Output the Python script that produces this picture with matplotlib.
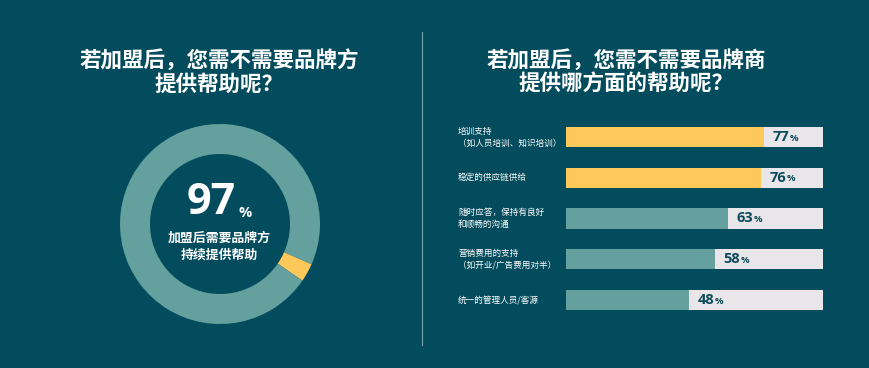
import matplotlib
matplotlib.use("Agg")
import matplotlib.pyplot as plt
from matplotlib.transforms import blended_transform_factory

plt.rcParams['font.family'] = ['Noto Sans CJK SC', 'DejaVu Sans']

# ---- data ----
left_title = "若加盟后，您需不需要品牌方\n提供帮助呢？"
right_title = "若加盟后，您需不需要品牌商\n提供哪方面的帮助呢？"
donut_values = [3, 97]          # 不需要 / 需要
donut_main = "97"
donut_caption = "加盟后需要品牌方\n持续提供帮助"
categories = ["培训支持\n（如人员培训、知识培训）",
              "稳定的供应链供给",
              "随时应答，保持有良好\n和顺畅的沟通",
              "营销费用的支持\n（如开业/广告费用对半）",
              "统一的管理人员/客源"]
values = [77, 76, 63, 58, 48]
highlight = [True, True, False, False, False]

# ---- style ----
BG = "#034C5D"
TEAL = "#64A09E"
YELLOW = "#FEC85A"
GRAY = "#E8E6E8"
DARK = "#0B4A5A"
W, H = 869, 368

fig = plt.figure(figsize=(W / 100, H / 100), dpi=100)
fig.patch.set_facecolor(BG)

def fx(px):
    return px / W

def fy(py):
    return 1 - py / H

# titles
fig.text(fx(219), fy(72), left_title, ha="center", va="center", color="white",
         fontsize=15.5, fontweight="bold", linespacing=1.15)
fig.text(fx(626), fy(72), right_title, ha="center", va="center", color="white",
         fontsize=15.5, fontweight="bold", linespacing=1.15)

# divider
fig.add_artist(plt.Line2D([fx(422), fx(422)], [fy(32), fy(345)],
                          color="#7FA3AA", lw=0.8))

# donut
cx, cy, r = 220, 224, 100
axd = fig.add_axes([fx(cx - r), fy(cy + r), 2 * r / W, 2 * r / H])
axd.set_facecolor(BG)
axd.pie(donut_values, colors=[YELLOW, TEAL], startangle=-34.5, counterclock=True,
        radius=1, wedgeprops=dict(width=0.3, edgecolor="none"))
axd.set_aspect("equal")
axd.set_xlim(-1, 1)
axd.set_ylim(-1, 1)
axd.axis("off")

fig.text(fx(211), fy(203), donut_main, ha="center", va="center", color="white",
         fontsize=31, fontweight="bold", family=["Open Sans", "DejaVu Sans"])
fig.text(fx(245), fy(213), "%", ha="center", va="center", color="white",
         fontsize=10.5, fontweight="bold", family=["Open Sans", "DejaVu Sans"])
fig.text(fx(219), fy(246), donut_caption, ha="center", va="center", color="white",
         fontsize=9.3, fontweight="bold", linespacing=1.25)

# bars
top_c, bot_c = 137, 300
step = (bot_c - top_c) / (len(values) - 1)
x0, x1 = 566, 823
axb = fig.add_axes([fx(x0), fy(bot_c + step / 2), (x1 - x0) / W,
                    (bot_c - top_c + step) / H])
axb.set_facecolor(BG)
ypos = list(range(len(values)))
axb.barh(ypos, [100] * len(values), height=0.5, color=GRAY, edgecolor="none")
axb.barh(ypos, values, height=0.5,
         color=[YELLOW if h else TEAL for h in highlight], edgecolor="none")
axb.set_xlim(0, 100)
axb.set_ylim(len(values) - 0.5, -0.5)
axb.axis("off")

tr = blended_transform_factory(fig.transFigure, axb.transData)
for i, (lab, v) in enumerate(zip(categories, values)):
    axb.text(fx(458), i, lab, transform=tr, ha="left", va="center",
             color="white", fontsize=6.2, linespacing=1.45)
    t = axb.annotate(str(v), xy=(v, i), xytext=(6, 0), textcoords="offset points",
                     ha="left", va="center", color=DARK, fontsize=10.5,
                     fontweight="bold", family=["Open Sans", "DejaVu Sans"])
    axb.annotate("%", xy=(1, 0), xycoords=t, xytext=(0.3, 1.0),
                 textcoords="offset points", ha="left", va="bottom", color=DARK,
                 fontsize=6.8, fontweight="bold", family=["Open Sans", "DejaVu Sans"])

fig.savefig("out.png", dpi=100, facecolor=BG)
